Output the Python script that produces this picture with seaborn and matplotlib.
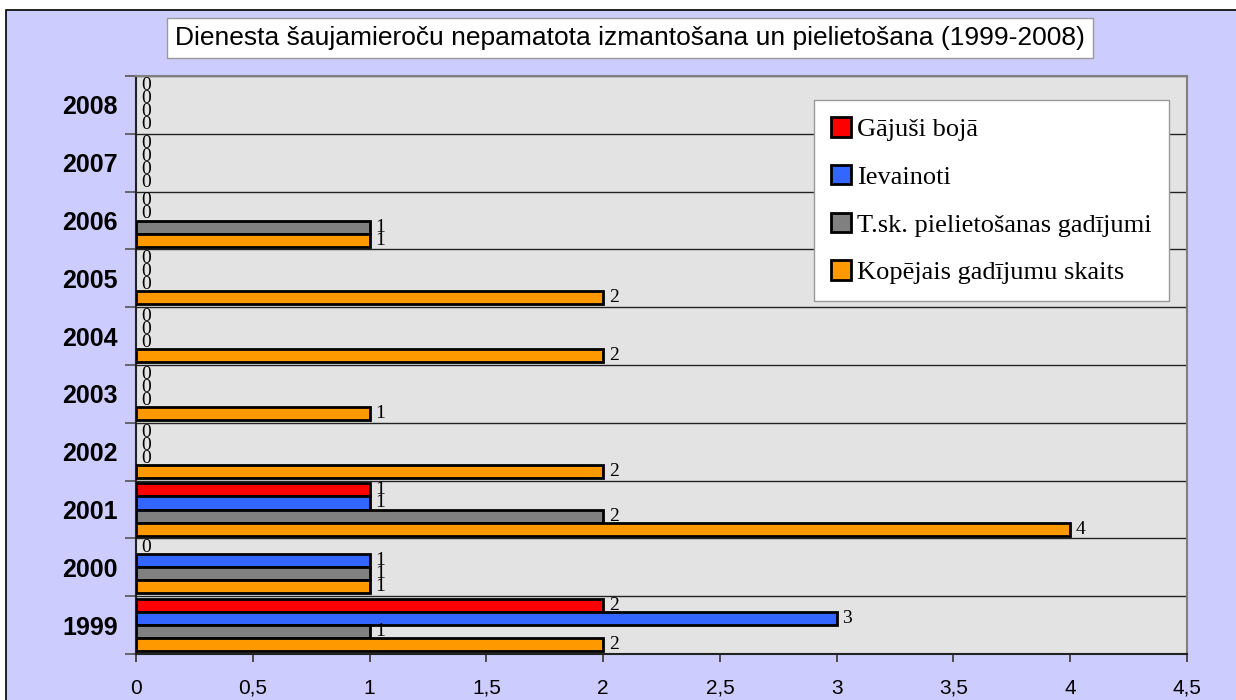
import pandas as pd
import seaborn as sns
from matplotlib import pyplot as plt
from matplotlib.patches import Rectangle
from matplotlib.ticker import FixedLocator

years = ['1999', '2000', '2001', '2002', '2003', '2004', '2005', '2006', '2007', '2008']
gajusi_boja = [2, 0, 1, 0, 0, 0, 0, 0, 0, 0]
ievainoti = [3, 1, 1, 0, 0, 0, 0, 0, 0, 0]
pielietosana = [1, 1, 2, 0, 0, 0, 0, 1, 0, 0]
kopejais = [2, 1, 4, 2, 1, 2, 2, 1, 0, 0]

series = ['Gājuši bojā', 'Ievainoti', 'T.sk. pielietošanas gadījumi', 'Kopējais gadījumu skaits']
colors = ['#ff0000', '#3366ff', '#808080', '#ff9900']

dfs = []
for name, vals in zip(series, [gajusi_boja, ievainoti, pielietosana, kopejais]):
    d = pd.DataFrame({'year': years, 'value': vals})
    d['series'] = name
    dfs.append(d)
df = pd.concat(dfs)

fig = plt.figure(figsize=(12.36, 7), dpi=100, facecolor='white')
fig.patches.append(Rectangle((6/1236, -0.02), 1.0, 1.02 - 10/700, transform=fig.transFigure,
                             facecolor='#ccccff', edgecolor='black', linewidth=1.2, zorder=-10))
ax = fig.add_axes([136/1236, 1-654/700, 1051/1236, 578/700])
ax.set_facecolor('#e3e3e3')

sns.barplot(data=df, x='value', y='year', hue='series', order=years[::-1], hue_order=series,
            palette=colors, saturation=1, width=0.9, edgecolor='black', linewidth=2,
            errorbar=None, orient='h', ax=ax, zorder=3)

# zero bars are not drawn in the original, only their labels
for c in ax.containers:
    for p in c:
        if p.get_width() == 0:
            p.set_linewidth(0)
    ax.bar_label(c, fmt='{:g}', padding=4, fontsize=14, family='Liberation Serif')

ax.set_xlim(0, 4.5)
ax.set_ylim(9.5, -0.5)
ax.set_xticks([i * 0.5 for i in range(10)])
ax.set_xticklabels([('%g' % (i * 0.5)).replace('.', ',') for i in range(10)],
                   family='Liberation Sans', fontsize=15)
ax.tick_params(axis='x', length=6, width=1.2, color='#333333', pad=12)
ax.tick_params(axis='y', which='major', length=0, pad=13)
ax.yaxis.set_minor_locator(FixedLocator([i - 0.5 for i in range(11)]))
ax.tick_params(axis='y', which='minor', length=8, width=1.2, color='#555555')
for lbl in ax.get_yticklabels():
    lbl.set_family('Liberation Sans')
    lbl.set_fontweight('bold')
    lbl.set_fontsize(18)
ax.grid(which='minor', axis='y', color='#222222', linewidth=1, zorder=1)
ax.set_axisbelow(True)
ax.set_xlabel('')
ax.set_ylabel('')

for s in ['top', 'right']:
    ax.spines[s].set_color('#808080')
    ax.spines[s].set_linewidth(1.5)
for s in ['left', 'bottom']:
    ax.spines[s].set_color('#222222')
    ax.spines[s].set_linewidth(1.5)

leg = ax.legend(loc='upper right', bbox_to_anchor=(0.983, 0.958), borderaxespad=0,
                frameon=True, fancybox=False, edgecolor='#999999', framealpha=1,
                prop={'family': 'Liberation Serif', 'size': 19},
                handlelength=0.75, handleheight=0.75, handletextpad=0.25,
                labelspacing=0.9, borderpad=0.65)
leg.get_frame().set_linewidth(1)

fig.text(630/1236, 1 - 38/700, 'Dienesta šaujamieroču nepamatota izmantošana un pielietošana (1999-2008)',
         ha='center', va='center', family='Liberation Sans', fontsize=19,
         bbox=dict(boxstyle='square,pad=0.3', facecolor='white', edgecolor='#999999', linewidth=1))

plt.savefig('out.png', dpi=100, facecolor=fig.get_facecolor())
